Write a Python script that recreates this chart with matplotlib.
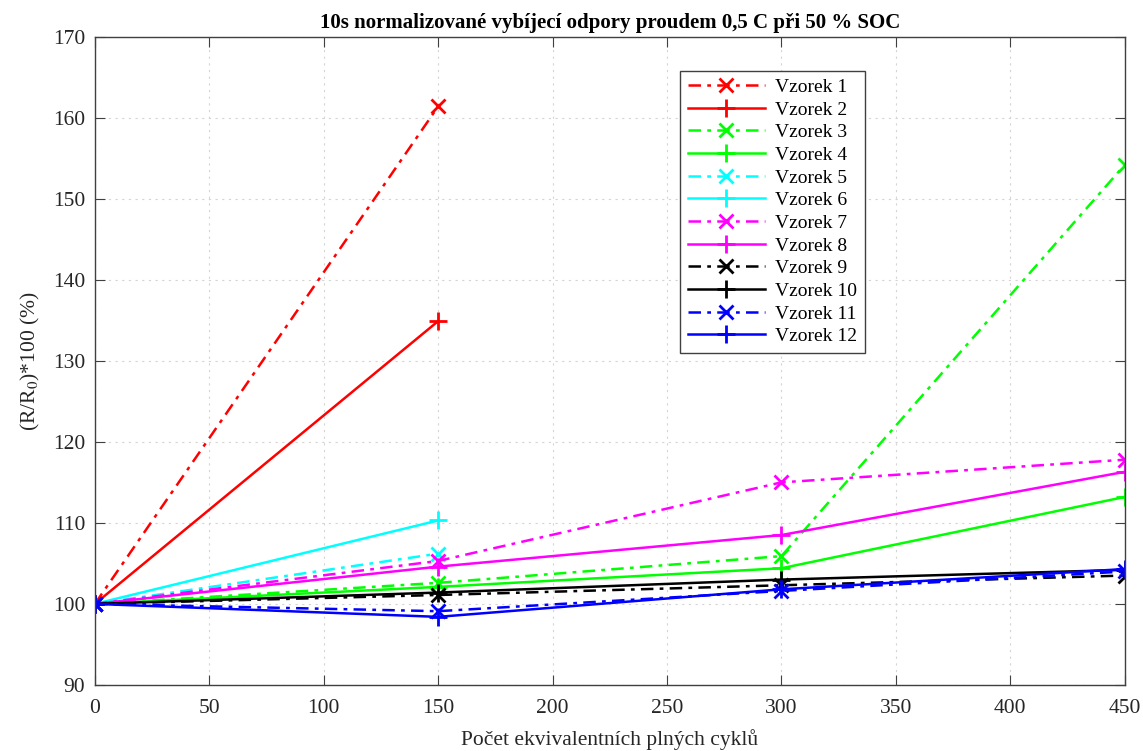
import matplotlib
matplotlib.use("Agg")
import matplotlib.pyplot as plt

plt.rcParams['font.family'] = ['Liberation Serif', 'DejaVu Serif']
plt.rcParams['mathtext.fontset'] = 'stix'

cycles_short = [0, 150]
cycles_long = [0, 150, 300, 450]

s1 = [100, 161.4]
s2 = [100, 134.9]
s3 = [100, 102.6, 105.9, 154.2]
s4 = [100, 102.1, 104.4, 113.2]
s5 = [100, 106.2]
s6 = [100, 110.3]
s7 = [100, 105.3, 115.0, 117.8]
s8 = [100, 104.6, 108.5, 116.3]
s9 = [100, 101.1, 102.3, 103.5]
s10 = [100, 101.4, 103.0, 104.2]
s11 = [100, 99.1, 101.6, 104.0]
s12 = [100, 98.4, 101.8, 104.3]

labels = [f"Vzorek {i}" for i in range(1, 13)]
series = [(cycles_short, s1), (cycles_short, s2), (cycles_long, s3), (cycles_long, s4),
          (cycles_short, s5), (cycles_short, s6), (cycles_long, s7), (cycles_long, s8),
          (cycles_long, s9), (cycles_long, s10), (cycles_long, s11), (cycles_long, s12)]
colors = ['#ff0000', '#ff0000', '#00ff00', '#00ff00', '#00ffff', '#00ffff',
          '#ff00ff', '#ff00ff', '#000000', '#000000', '#0000ff', '#0000ff']

fig = plt.figure(figsize=(11.43, 7.51), dpi=100)
ax = fig.add_axes([0.083, 0.088, 0.901, 0.863])

dashdot = (0, (5, 2.5, 1.5, 2.5))
for i, ((x, y), c, lab) in enumerate(zip(series, colors, labels)):
    if i % 2 == 0:
        ax.plot(x, y, color=c, linestyle=dashdot, linewidth=1.8, marker='x',
                markersize=9.5, markeredgewidth=2, label=lab)
    else:
        ax.plot(x, y, color=c, linestyle='-', linewidth=1.8, marker='+',
                markersize=13, markeredgewidth=2, label=lab)

ax.set_xlim(0, 450)
ax.set_ylim(90, 170)
ax.set_xticks(range(0, 451, 50))
ax.set_yticks(range(90, 171, 10))
ax.grid(True, color='#d4d4d4', linestyle=(0, (2, 4)), linewidth=0.8)
ax.tick_params(direction='in', top=True, right=True, labelsize=15.5, length=7,
               color='#404040', labelcolor='#262626')
ax.tick_params(axis='x', pad=10)
ax.tick_params(axis='y', pad=7)
for sp in ax.spines.values():
    sp.set_color('#404040')
    sp.set_linewidth(1.0)

ax.set_xlabel('Počet ekvivalentních plných cyklů', fontsize=15.5, color='#262626', labelpad=8)
ax.set_ylabel(r'(R/R$_0$)*100 (%)', fontsize=15.5, color='#262626', labelpad=8)
ax.set_title('10s normalizované vybíjecí odpory proudem 0,5 C při 50 % SOC',
             fontsize=15, fontweight='bold', pad=6)

leg = ax.legend(loc='upper left', bbox_to_anchor=(0.568, 0.948), fontsize=14,
                handlelength=4.0, numpoints=1, fancybox=False, framealpha=1,
                edgecolor='#404040', labelspacing=0.26, borderpad=0.4,
                handletextpad=0.5, borderaxespad=0)
leg.get_frame().set_linewidth(1.0)

fig.savefig('out.png', dpi=100)
